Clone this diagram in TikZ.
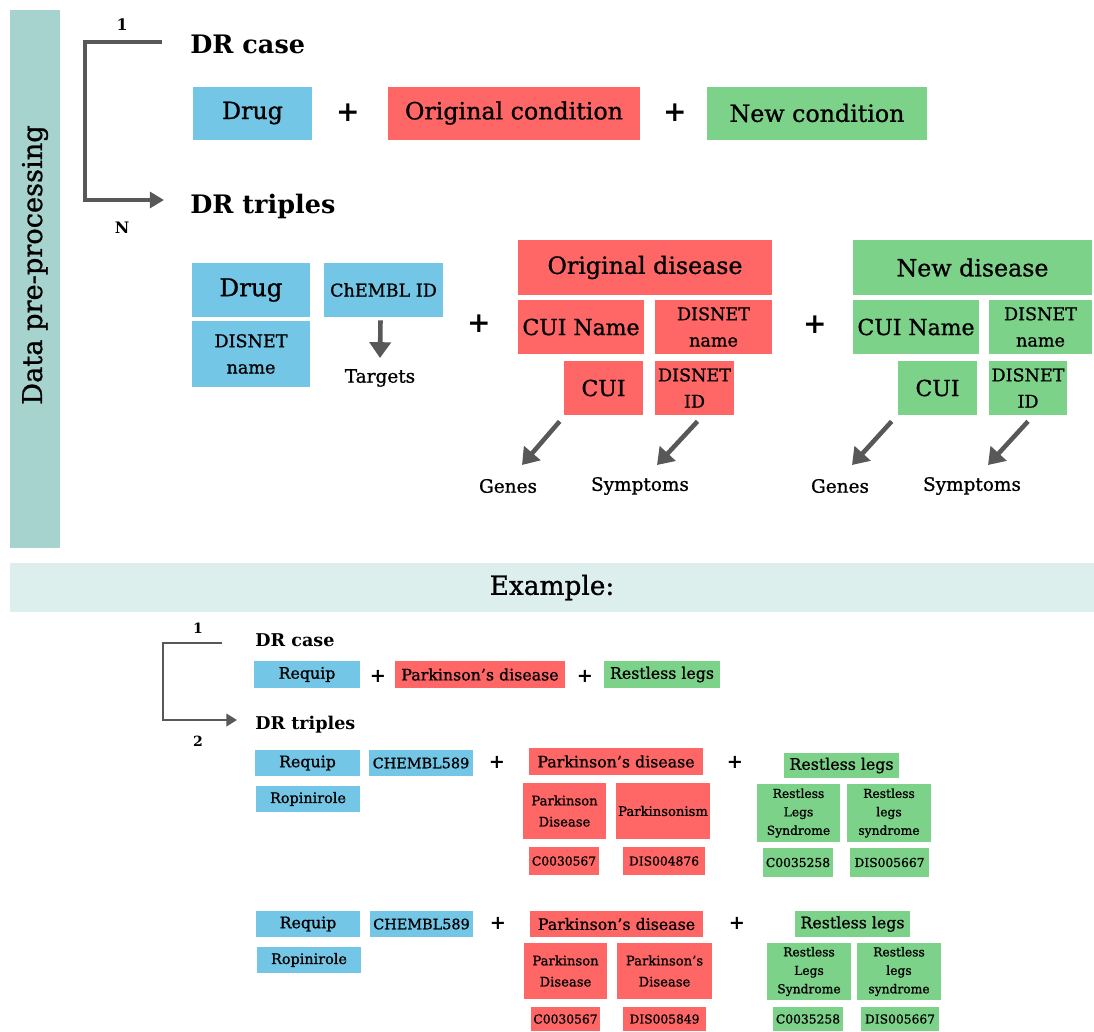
\documentclass[tikz,border=0pt]{standalone}
\usepackage{fontspec}
\setmainfont{DejaVu Serif}
\newfontfamily\semib{DejaVu Serif}[FakeBold=1, Ligatures=TeX]
\usetikzlibrary{arrows.meta}
\definecolor{drugblue}{RGB}{115,198,230}
\definecolor{origred}{RGB}{255,102,102}
\definecolor{newgreen}{RGB}{125,210,138}
\definecolor{sideteal}{RGB}{166,211,205}
\definecolor{exband}{RGB}{221,239,237}
\definecolor{arrowgray}{RGB}{88,88,88}
\newcommand{\fs}[2]{\semib\fontsize{#1}{#2}\selectfont}
\begin{document}
\begin{tikzpicture}[x=0.02cm, y=-0.02cm,
  cell/.style={inner sep=0pt, align=center},
  wh/.style 2 args={minimum width=#1*0.02cm, minimum height=#2*0.02cm},
  drugbox/.style={cell, fill=drugblue},
  origbox/.style={cell, fill=origred},
  newbox/.style={cell, fill=newgreen},
  sideband/.style={inner sep=0pt, fill=sideteal},
  heading/.style={font=\normalfont\bfseries\fontsize{14.5}{16}\selectfont, anchor=west, inner sep=0pt},
  exheading/.style={font=\normalfont\bfseries\fontsize{10}{12}\selectfont, anchor=west, inner sep=0pt},
  plussign/.style={font=\normalfont\bfseries\fontsize{16}{16}\selectfont, inner sep=0pt},
  explus/.style={font=\normalfont\bfseries\fontsize{11}{11}\selectfont, inner sep=0pt},
  lbl/.style={font=\fs{10.5}{12}, inner sep=0pt},
  countlbl/.style={font=\normalfont\bfseries\fontsize{9}{10}\selectfont, inner sep=0pt},
  fbig/.style={font=\fs{13.5}{16}},
  fmid/.style={font=\fs{12.5}{15}},
  fsmall/.style={font=\fs{10}{15}},
  fex/.style={font=\fs{9}{11}},
  fexm/.style={font=\fs{8.2}{10}},
  fexs/.style={font=\fs{7.5}{12}},
  fext/.style={font=\fs{7}{10.5}},
  bracketline/.style={draw=arrowgray, line width=2pt, -{Triangle[length=8pt,width=9pt]}},
  exbracket/.style={draw=arrowgray, line width=1.4pt, -{Triangle[length=6pt,width=7pt]}},
  fatarrow/.style={draw=arrowgray, line width=2.6pt, -{Triangle[length=9pt,width=12pt]}}]
  \useasboundingbox (0,0) rectangle (1094,1031);
  % side band
  \node[sideband, wh={50}{538}] (side) at (35,279) {};
  \node[rotate=90, font=\fs{15.5}{17}] (sidetext) at (35,265) {Data pre-processing};
  % bracket 1 -> N
  \node[heading] (drcase) at (190,44) {DR case};
  \node[heading] (drtriples) at (190,206) {DR triples};
  \coordinate (brtop) at (162,42);
  \coordinate (brcorner) at (85,42);
  \coordinate (brend) at (164,200);
  \draw[bracketline] (brtop) -- (brcorner) |- (brend);
  \node[countlbl] (one) at (122,25) {1};
  \node[countlbl] (many) at (122,228) {N};
  % DR case row
  \node[drugbox, fbig, wh={119}{53}] (cdrug) at (252.5,113) {Drug};
  \node[plussign] (cplus1) at (348,113) {+};
  \node[origbox, fbig, wh={252}{53}] (corig) at (514,113) {Original condition};
  \node[plussign] (cplus2) at (675,113) {+};
  \node[newbox, fbig, wh={220}{53}] (cnew) at (817,113) {New condition};
  % DR triples: drug
  \node[drugbox, font=\fs{14}{16}, wh={118}{54}] (tdrug) at (251,290) {Drug};
  \node[drugbox, fsmall, wh={118}{66}] (tdname) at (251,354) {DISNET\\name};
  \node[drugbox, fsmall, wh={119}{54}] (tchembl) at (383.5,290) {ChEMBL ID};
  \node[lbl] (ttargets) at (380,378) {Targets};
  \draw[fatarrow] ([shift={(-3,3)}]tchembl.south) -- ([shift={(0,-20)}]ttargets.center);
  \node[plussign] (tplus1) at (479,324) {+};
  % original disease
  \node[origbox, fbig, wh={254}{55}] (odis) at (645,267.5) {Original disease};
  \node[origbox, fmid, wh={126}{54}] (ocname) at (581,327) {CUI Name};
  \node[origbox, fsmall, wh={117}{54}] (odname) at (713.5,327) {DISNET\\name};
  \node[origbox, fmid, wh={79}{54}] (ocui) at (603.5,388) {CUI};
  \node[origbox, fsmall, wh={79}{54}] (odid) at (694.5,388) {DISNET\\ID};
  \node[lbl] (ogenes) at (508,486) {Genes};
  \node[lbl] (osymp) at (640,486) {Symptoms};
  \draw[fatarrow] ([shift={(-4,6)}]ocui.south west) -- ([shift={(14,-21)}]ogenes.center);
  \draw[fatarrow] ([shift={(3,6)}]odid.south) -- ([shift={(17,-21)}]osymp.center);
  \node[plussign] (tplus2) at (815,325) {+};
  % new disease
  \node[newbox, fbig, wh={239}{55}] (ndis) at (972.5,267.5) {New disease};
  \node[newbox, fmid, wh={126}{54}] (ncname) at (916,327) {CUI Name};
  \node[newbox, fsmall, wh={103}{54}] (ndname) at (1040.5,327) {DISNET\\name};
  \node[newbox, fmid, wh={79}{54}] (ncui) at (937.5,388) {CUI};
  \node[newbox, fsmall, wh={78}{54}] (ndid) at (1028,388) {DISNET\\ID};
  \node[lbl] (ngenes) at (840,486) {Genes};
  \node[lbl] (nsymp) at (972,486) {Symptoms};
  \draw[fatarrow] ([shift={(-6,6)}]ncui.south west) -- ([shift={(12,-21)}]ngenes.center);
  \draw[fatarrow] ([shift={(0,6)}]ndid.south) -- ([shift={(16,-21)}]nsymp.center);
  % example band
  \node[inner sep=0pt, fill=exband, wh={1084}{49}, font=\fs{15}{17}] (exband) at (552,587.5) {Example:};
  % example bracket 1 -> 2
  \node[exheading] (ecase) at (255,640) {DR case};
  \node[exheading] (etriples) at (255,725) {DR triples};
  \coordinate (ebrtop) at (222,643);
  \coordinate (ebrcorner) at (163,643);
  \coordinate (ebrend) at (237,720);
  \draw[exbracket] (ebrtop) -- (ebrcorner) |- (ebrend);
  \node[countlbl, font=\normalfont\bfseries\fontsize{8}{9}\selectfont] (eone) at (198,628) {1};
  \node[countlbl, font=\normalfont\bfseries\fontsize{8}{9}\selectfont] (etwo) at (198,741) {2};
  \node[drugbox, fex, wh={106}{27}] (erequip) at (307,674.5) {Requip};
  \node[explus] (eplus1) at (378,676) {+};
  \node[origbox, fex, wh={170}{27}] (epark) at (480,674.5) {Parkinson's disease};
  \node[explus] (eplus2) at (585,676) {+};
  \node[newbox, fex, wh={116}{27}] (erest) at (662,674.5) {Restless legs};
  % example triple 1
  \node[drugbox, fex, wh={105}{26}] (ar1) at (307.5,763) {Requip};
  \node[drugbox, fexm, wh={104}{26}] (ach1) at (421,763) {CHEMBL589};
  \node[drugbox, fexm, wh={104}{26}] (aro1) at (308,799) {Ropinirole};
  \node[explus] (aplus1) at (497,762) {+};
  \node[origbox, fex, wh={174}{27}] (apd1) at (616,761.5) {Parkinson's disease};
  \node[origbox, fexs, wh={83}{56}] (apn1) at (564.5,811) {Parkinson\\Disease};
  \node[origbox, fexs, wh={94}{56}] (apm1) at (663,811) {Parkinsonism};
  \node[origbox, fext, wh={70}{28}] (ac1) at (564,861) {C0030567};
  \node[origbox, fext, wh={82}{28}] (ad1) at (664,861) {DIS004876};
  \node[explus] (aplus2) at (735,762) {+};
  \node[newbox, fex, wh={115}{25}] (arl1) at (841.5,765.5) {Restless legs};
  \node[newbox, fext, wh={83}{58}] (arls1) at (798.5,813) {Restless\\Legs\\Syndrome};
  \node[newbox, fext, wh={84}{58}] (arlt1) at (889,813) {Restless\\legs\\syndrome};
  \node[newbox, fext, wh={70}{29}] (arc1) at (798,862.5) {C0035258};
  \node[newbox, fext, wh={79}{29}] (ard1) at (889.5,862.5) {DIS005667};
  % example triple 2
  \node[drugbox, fex, wh={104}{26}] (br2) at (308,924) {Requip};
  \node[drugbox, fexm, wh={103}{26}] (bch2) at (421.5,924) {CHEMBL589};
  \node[drugbox, fexm, wh={104}{26}] (bro2) at (309,960) {Ropinirole};
  \node[explus] (bplus1) at (498,923) {+};
  \node[origbox, fex, wh={173}{26}] (bpd2) at (616.5,924) {Parkinson's disease};
  \node[origbox, fexs, wh={83}{56}] (bpn2) at (565.5,971) {Parkinson\\Disease};
  \node[origbox, fexs, wh={95}{56}] (bps2) at (664.5,971) {Parkinson's\\Disease};
  \node[origbox, fext, wh={69}{24}] (bc2) at (565.5,1019) {C0030567};
  \node[origbox, fext, wh={83}{24}] (bd2) at (664.5,1019) {DIS005849};
  \node[explus] (bplus2) at (737,923) {+};
  \node[newbox, fex, wh={115}{26}] (brl2) at (852.5,924) {Restless legs};
  \node[newbox, fext, wh={84}{57}] (brls2) at (809,971.5) {Restless\\Legs\\Syndrome};
  \node[newbox, fext, wh={84}{57}] (brlt2) at (899,971.5) {Restless\\legs\\syndrome};
  \node[newbox, fext, wh={70}{24}] (brc2) at (808,1019) {C0035258};
  \node[newbox, fext, wh={78}{24}] (brd2) at (900,1019) {DIS005667};
\end{tikzpicture}
\end{document}
